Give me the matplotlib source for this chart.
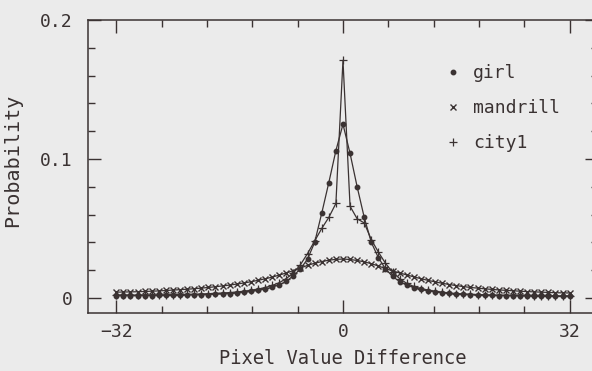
import matplotlib
matplotlib.use("Agg")
import matplotlib.pyplot as plt
from matplotlib.lines import Line2D
from matplotlib.ticker import MultipleLocator, FixedLocator

# pixel value difference, -32 .. 32
diff = list(range(-32, 33))

# probability values, x = -32 ... 32
girl = [0.0016, 0.0016, 0.0016, 0.0016, 0.0017, 0.0017, 0.0018, 0.0018, 0.0019, 0.0020,
        0.0021, 0.0022, 0.0023, 0.0025, 0.0027, 0.0029, 0.0032, 0.0036, 0.0041, 0.0047,
        0.0055, 0.0065, 0.0078, 0.0095, 0.0120, 0.0160, 0.0210, 0.0280, 0.0400, 0.0610,
        0.0830, 0.1060,
        0.1250,
        0.1040, 0.0800, 0.0580, 0.0400, 0.0290, 0.0210, 0.0155, 0.0118, 0.0092, 0.0075,
        0.0062, 0.0052, 0.0044, 0.0038, 0.0033, 0.0029, 0.0026, 0.0023, 0.0021, 0.0019,
        0.0018, 0.0017, 0.0016, 0.0015, 0.0014, 0.0014, 0.0013, 0.0013, 0.0012, 0.0012,
        0.0011, 0.0011]
mandrill = [0.0042, 0.0043, 0.0044, 0.0045, 0.0047, 0.0049, 0.0051, 0.0054, 0.0057, 0.0060,
            0.0063, 0.0067, 0.0071, 0.0076, 0.0081, 0.0087, 0.0093, 0.0100, 0.0108, 0.0117,
            0.0127, 0.0138, 0.0150, 0.0165, 0.0180, 0.0197, 0.0215, 0.0235, 0.0250, 0.0262,
            0.0272, 0.0278,
            0.0280,
            0.0277, 0.0270, 0.0260, 0.0247, 0.0230, 0.0212, 0.0195, 0.0180, 0.0166, 0.0152,
            0.0139, 0.0127, 0.0116, 0.0106, 0.0097, 0.0089, 0.0082, 0.0076, 0.0071, 0.0066,
            0.0062, 0.0058, 0.0055, 0.0052, 0.0049, 0.0046, 0.0044, 0.0042, 0.0040, 0.0038,
            0.0037, 0.0036]
city1 = [0.0021, 0.0021, 0.0021, 0.0021, 0.0022, 0.0022, 0.0023, 0.0023, 0.0024, 0.0025,
         0.0026, 0.0027, 0.0029, 0.0031, 0.0033, 0.0036, 0.0039, 0.0043, 0.0048, 0.0055,
         0.0064, 0.0075, 0.0090, 0.0110, 0.0140, 0.0180, 0.0240, 0.0320, 0.0410, 0.0500,
         0.0580, 0.0680,
         0.1710,
         0.0660, 0.0570, 0.0540, 0.0420, 0.0330, 0.0250, 0.0185, 0.0140, 0.0105, 0.0083,
         0.0068, 0.0057, 0.0048, 0.0041, 0.0036, 0.0032, 0.0029, 0.0027, 0.0025, 0.0023,
         0.0022, 0.0021, 0.0020, 0.0019, 0.0018, 0.0018, 0.0017, 0.0017, 0.0016, 0.0016,
         0.0015, 0.0015]

labels = ["girl", "mandrill", "city1"]
xticks = [-32, 0, 32]
yticks = [0, 0.1, 0.2]
yticklabels = ["0", "0.1", "0.2"]

ink = "#3a3232"
bg = "#ebebeb"
font = "DejaVu Sans Mono"

plt.rcParams["font.family"] = font
plt.rcParams["text.color"] = ink
plt.rcParams["axes.labelcolor"] = ink
plt.rcParams["xtick.color"] = ink
plt.rcParams["ytick.color"] = ink

fig = plt.figure(figsize=(5.92, 3.71), dpi=100, facecolor=bg)
ax = fig.add_axes([0.1486, 0.1563, 0.8615, 0.7898], facecolor=bg)

ax.plot(diff, mandrill, color=ink, lw=0.9, marker="x", ms=4.3, mew=1.0)
ax.plot(diff, city1, color=ink, lw=0.9, marker="+", ms=6, mew=0.9)
ax.plot(diff, girl, color=ink, lw=0.9, marker="o", ms=3.2)

ax.set_xlim(-36, 36)
ax.set_ylim(-0.0108, 0.2)

ax.xaxis.set_major_locator(FixedLocator(xticks))
ax.xaxis.set_minor_locator(FixedLocator([-32 + 6.4 * i for i in range(11)]))
ax.yaxis.set_major_locator(FixedLocator(yticks))
ax.yaxis.set_minor_locator(MultipleLocator(0.02))
ax.set_yticklabels(yticklabels)
ax.tick_params(which="both", direction="in", top=True, right=True, width=1.0)
ax.tick_params(which="major", length=9.5, labelsize=13)
ax.tick_params(which="minor", length=5)
ax.tick_params(axis="y", pad=11)
ax.tick_params(axis="x", pad=7)
for s in ax.spines.values():
    s.set_color(ink)
    s.set_linewidth(1.1)

ax.set_xlabel("Pixel Value Difference", fontsize=13.5, labelpad=6)
ax.set_ylabel("Probability", fontsize=14.5)
ax.yaxis.set_label_coords(-0.13, 0.52)

handles = [Line2D([], [], color=ink, ls="none", marker="o", ms=3.2),
           Line2D([], [], color=ink, ls="none", marker="x", ms=4.3, mew=1.0),
           Line2D([], [], color=ink, ls="none", marker="+", ms=6, mew=0.9)]
ax.legend(handles, labels, loc="upper left", bbox_to_anchor=(0.698, 0.85),
          frameon=False, fontsize=13, handlelength=1.0, handletextpad=0.6,
          labelspacing=0.95, borderpad=0, borderaxespad=0)

fig.savefig("out.png", dpi=100, facecolor=bg)
